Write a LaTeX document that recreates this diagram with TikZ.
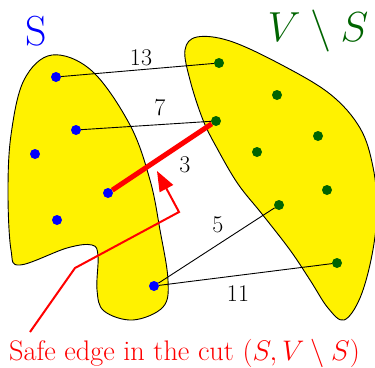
\RequirePackage{fix-cm}
\documentclass[tikz,border=0pt]{standalone}
\usetikzlibrary{arrows.meta}
\definecolor{dgreen}{RGB}{0,100,0}
\tikzset{
  blob/.style={draw=black, line width=0.9pt, fill=yellow},
  sdot/.style={circle, fill=blue, inner sep=0pt, minimum size=10pt},
  tdot/.style={circle, fill=dgreen, inner sep=0pt, minimum size=10pt},
  edge/.style={draw=black, line width=0.9pt},
  wlab/.style={font=\fontsize{24}{28}\selectfont, inner sep=0pt},
}
\begin{document}
\begin{tikzpicture}[x=1pt,y=-1pt]
\useasboundingbox (0,0) rectangle (375,367);
% blobs
\draw[blob] plot[smooth cycle, tension=0.6] coordinates {(52,55) (92,71) (130,125) (150,180) (160,230) (168,280) (163,307) (133,320) (104,311) (97,290) (98,256) (92,245) (67,248) (20,265) (11,250) (8,193) (11,135) (24,80)};
\draw[blob] plot[smooth cycle, tension=0.6] coordinates {(197,37) (230,41) (280,64) (330,94) (360,128) (373,167) (377,210) (372,255) (360,298) (344,320) (328,308) (310,280) (290,250) (262,214) (238,184) (218,150) (203,120) (190,80) (185,50)};
% nodes
\node[sdot] (s1) at (56,77) {};
\node[sdot] (s2) at (76,130) {};
\node[sdot] (s3) at (35,154) {};
\node[sdot] (s4) at (108,193) {};
\node[sdot] (s5) at (57,220) {};
\node[sdot] (s6) at (154,286) {};
\node[tdot] (t1) at (219,63) {};
\node[tdot] (t2) at (216,121) {};
\node[tdot] (t3) at (277,95) {};
\node[tdot] (t4) at (318,136) {};
\node[tdot] (t5) at (257,152) {};
\node[tdot] (t6) at (327,190) {};
\node[tdot] (t7) at (279,205) {};
\node[tdot] (t8) at (337,263) {};
% edges
\draw[edge] (s1) -- (t1);
\draw[edge] (s2) -- (t2);
\draw[edge] (s6) -- (t7);
\draw[edge] (s6) -- (t8);
\draw[red, line width=5pt] (s4) -- (t2);
% weights
\node[wlab] (w13) at (141,58) {13};
\node[wlab] (w7) at (160,108) {7};
\node[wlab] (w3) at (185,165) {3};
\node[wlab] (w5) at (218,225) {5};
\node[wlab] (w11) at (238,294) {11};
% set labels
\node[blue, font=\fontsize{42}{46}\selectfont, inner sep=0pt] (lS) at (36,31) {S};
\node[dgreen, font=\fontsize{42}{46}\selectfont, inner sep=0pt] (lV) at (318,31) {$V\setminus S$};
% caption and arrow
\node[red, font=\fontsize{28.3}{32}\selectfont, inner sep=0pt] (cap) at (184.5,353) {Safe edge in the cut $(S,V\setminus S)$};
\coordinate (a0) at (30,332);
\coordinate (a1) at (75,268);
\coordinate (a2) at (179,212);
\coordinate (a3) at (157,171);
\draw[red, line width=2pt, -{Triangle[length=20pt,width=15pt]}] (a0) -- (a1) -- (a2) -- (a3);
\end{tikzpicture}
\end{document}
